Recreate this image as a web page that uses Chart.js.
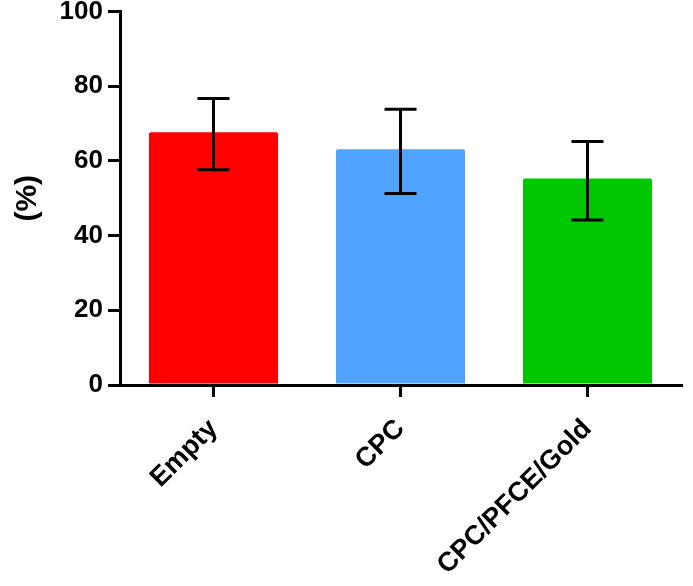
<!DOCTYPE html>
<html>
<head>
<meta charset="utf-8">
<script src="https://cdn.jsdelivr.net/npm/chart.js@4"></script>
<style>
  html, body { margin: 0; padding: 0; background: #fff; }
  #wrap { width: 693px; height: 586px; }
</style>
</head>
<body>
<div id="wrap"><canvas id="chart" width="693" height="586"></canvas></div>
<script>
const categories = ['Empty', 'CPC', 'CPC/PFCE/Gold']
const means = [67.7, 63.1, 55.3]
const errLow = [57.6, 51.3, 44.2]
const errHigh = [76.7, 73.8, 65.2]
const barColors = ['#ff0000', '#50a3ff', '#00c800']
const yTicks = [0, 20, 40, 60, 80, 100]

const FONT = '"Liberation Sans", Arial, sans-serif'

// whiskers drawn on the y scale of the chart
const errorBars = {
  id: 'errorBars',
  afterDatasetsDraw(chart) {
    const ctx = chart.ctx
    const meta = chart.getDatasetMeta(0)
    const y = chart.scales.y
    ctx.save()
    ctx.strokeStyle = '#000'
    ctx.lineWidth = 3
    meta.data.forEach((bar, i) => {
      const x = bar.x
      const top = y.getPixelForValue(errHigh[i])
      const bot = y.getPixelForValue(errLow[i])
      ctx.beginPath()
      ctx.moveTo(x, top); ctx.lineTo(x, bot)
      ctx.moveTo(x - 16, top); ctx.lineTo(x + 16, top)
      ctx.moveTo(x - 16, bot); ctx.lineTo(x + 16, bot)
      ctx.stroke()
    })
    ctx.restore()
  }
}

new Chart(document.getElementById('chart'), {
  type: 'bar',
  data: {
    labels: categories,
    datasets: [{
      data: means,
      backgroundColor: barColors,
      borderWidth: 0,
      borderRadius: 2,
      borderSkipped: 'bottom',
      categoryPercentage: 0.69,
      barPercentage: 1
    }]
  },
  options: {
    responsive: false,
    animation: false,
    layout: { padding: { top: 2, right: 12, left: 10, bottom: 0 } },
    plugins: { legend: { display: false }, tooltip: { enabled: false } },
    scales: {
      x: {
        grid: { display: true, drawOnChartArea: false, offset: false, color: '#000', lineWidth: 3, tickLength: 12 },
        border: { display: true, color: '#000', width: 3 },
        ticks: { color: '#000', font: { family: FONT, size: 27, weight: 'bold' }, minRotation: 45, maxRotation: 45, padding: 16 },
        afterFit: s => { s.height = 201 }
      },
      y: {
        min: 0, max: 100,
        afterBuildTicks: s => { s.ticks = yTicks.map(v => ({ value: v })) },
        grid: { display: true, drawOnChartArea: false, color: '#000', lineWidth: 3, tickLength: 12 },
        border: { display: true, color: '#000', width: 3 },
        ticks: { color: '#000', font: { family: FONT, size: 26, weight: 'bold', lineHeight: 0.5 }, padding: 5 },
        title: { display: true, text: '(%)', color: '#000', font: { family: FONT, size: 30, weight: 'bold' }, padding: { top: 0, bottom: 0 } },
        afterFit: s => { s.width = 110 }
      }
    }
  },
  plugins: [errorBars]
})
</script>
</body>
</html>
